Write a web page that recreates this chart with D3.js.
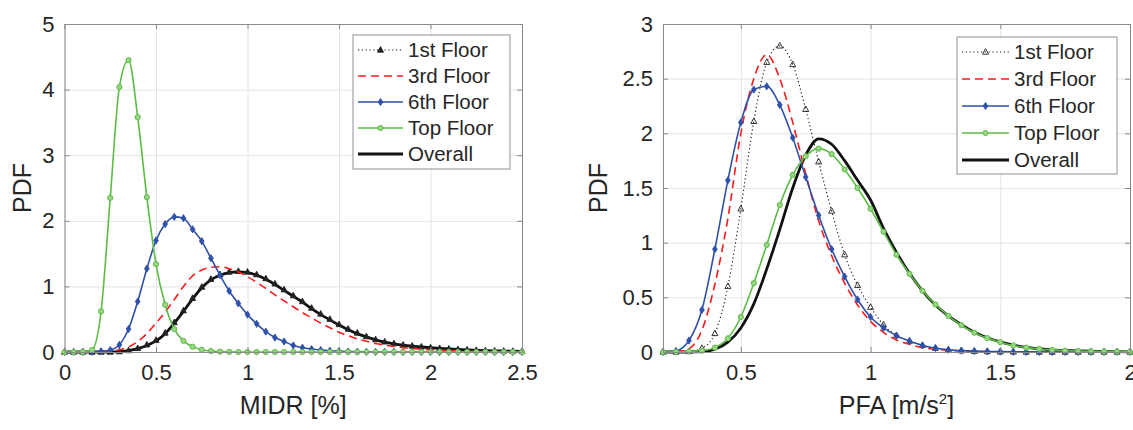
<!DOCTYPE html>
<html>
<head>
<meta charset="utf-8">
<script src="https://cdn.jsdelivr.net/npm/d3@7"></script>
<style>
  body { margin: 0; background: #fff; }
  svg text { font-family: "Liberation Sans", Arial, Helvetica, sans-serif; fill: #262626; }
</style>
</head>
<body>
<div id="chart"></div>
<script>
// ---- data ----
const seriesNames = ["1st Floor", "3rd Floor", "6th Floor", "Top Floor", "Overall"];

// left panel: MIDR [%]
const midrX = [0,0.05,0.1,0.15,0.2,0.25,0.3,0.35,0.4,0.45,0.5,0.55,0.6,0.65,0.7,0.75,0.8,0.85,0.9,0.95,
  1,1.05,1.1,1.15,1.2,1.25,1.3,1.35,1.4,1.45,1.5,1.55,1.6,1.65,1.7,1.75,1.8,1.85,1.9,1.95,
  2,2.05,2.1,2.15,2.2,2.25,2.3,2.35,2.4,2.45,2.5];
const midr1st = [0,0,0,0,0,0,0.006,0.022,0.055,0.11,0.18,0.29,0.45,0.63,0.82,0.99,1.11,1.18,1.22,1.23,
  1.22,1.18,1.12,1.04,0.95,0.86,0.77,0.67,0.58,0.50,0.42,0.35,0.29,0.235,0.19,0.155,0.128,0.107,0.092,0.078,
  0.066,0.056,0.047,0.039,0.033,0.027,0.022,0.018,0.015,0.012,0.01];
const midr3rd = [0,0,0,0,0.005,0.015,0.035,0.08,0.16,0.28,0.44,0.61,0.80,1.00,1.16,1.25,1.29,1.30,1.27,1.22,
  1.15,1.06,0.97,0.87,0.78,0.69,0.60,0.52,0.44,0.37,0.30,0.25,0.20,0.165,0.13,0.105,0.083,0.066,0.053,0.043,
  0.035,0.028,0.022,0.017,0.013,0.01,0.008,0.006,0.005,0.004,0.003];
const midr6th = [0,0,0,0.003,0.01,0.03,0.11,0.35,0.77,1.27,1.70,1.95,2.06,2.04,1.87,1.69,1.43,1.17,0.93,0.74,
  0.57,0.43,0.31,0.22,0.16,0.10,0.066,0.045,0.03,0.02,0.013,0.008,0.005,0.003,0.002,0.001,0.001,0,0,0,
  0,0,0,0,0,0,0,0,0,0,0];
const midrTop = [0,0,0,0.03,0.62,2.35,4.04,4.45,3.58,2.36,1.34,0.72,0.35,0.17,0.08,0.035,0.015,0.006,0.002,0,
  0,0,0,0,0,0,0,0,0,0,0,0,0,0,0,0,0,0,0,0,
  0,0,0,0,0,0,0,0,0,0,0];
const midrOverall = [0,0,0,0,0,0,0.005,0.02,0.05,0.10,0.17,0.28,0.44,0.62,0.81,0.98,1.10,1.17,1.21,1.22,
  1.21,1.17,1.11,1.03,0.94,0.85,0.76,0.66,0.57,0.49,0.41,0.34,0.28,0.23,0.185,0.15,0.125,0.105,0.09,0.077,
  0.065,0.055,0.046,0.038,0.032,0.027,0.022,0.018,0.015,0.012,0.01];
const midrXTicks = [0, 0.5, 1, 1.5, 2, 2.5];
const midrYTicks = [0, 1, 2, 3, 4, 5];

// right panel: PFA [m/s^2]
const pfaX = [0.2,0.25,0.3,0.35,0.4,0.45,0.5,0.55,0.6,0.65,0.7,0.75,0.8,0.85,0.9,0.95,
  1,1.05,1.1,1.15,1.2,1.25,1.3,1.35,1.4,1.45,1.5,1.55,1.6,1.65,1.7,1.75,1.8,1.85,1.9,1.95,2];
const pfa1st = [0,0,0.005,0.035,0.17,0.60,1.31,2.11,2.65,2.80,2.63,2.22,1.74,1.29,0.89,0.61,
  0.41,0.25,0.15,0.10,0.06,0.035,0.02,0.012,0.007,0.004,0.002,0.001,0,0,0,0,0,0,0,0,0];
const pfa3rd = [0,0.003,0.03,0.2,0.62,1.22,2.0,2.5,2.72,2.50,2.10,1.63,1.20,0.88,0.63,0.43,
  0.28,0.18,0.11,0.07,0.04,0.025,0.015,0.008,0.005,0.003,0.002,0.001,0,0,0,0,0,0,0,0,0];
const pfa6th = [0,0.01,0.105,0.385,0.94,1.57,2.10,2.40,2.43,2.26,1.96,1.60,1.25,0.94,0.69,0.48,
  0.32,0.22,0.15,0.10,0.06,0.036,0.02,0.013,0.008,0.005,0.003,0.002,0.001,0.001,0,0,0,0,0,0,0];
const pfaTop = [0,0.002,0.005,0.012,0.04,0.125,0.32,0.63,0.98,1.345,1.62,1.79,1.86,1.81,1.67,1.50,
  1.31,1.10,0.89,0.715,0.56,0.435,0.33,0.245,0.176,0.127,0.09,0.06,0.04,0.028,0.019,0.013,0.009,0.006,0.004,0.003,0.002];
const pfaOverall = [0,0,0,0.003,0.025,0.09,0.22,0.44,0.76,1.12,1.50,1.80,1.95,1.90,1.75,1.57,
  1.39,1.13,0.91,0.72,0.56,0.43,0.33,0.25,0.18,0.13,0.093,0.064,0.043,0.03,0.02,0.014,0.01,0.007,0.005,0.003,0.002];
const pfaXTicks = [0.5, 1, 1.5, 2];
const pfaYTicks = [0, 0.5, 1, 1.5, 2, 2.5, 3];

// ---- styles ----
const styles = {
  "1st Floor": { color: "#111", width: 1.1, dash: "1.2,2.6", marker: "triangle" },
  "3rd Floor": { color: "#ff1a1a", width: 1.6, dash: "8,5", marker: null },
  "6th Floor": { color: "#2f50a8", width: 1.6, dash: null, marker: "diamond" },
  "Top Floor": { color: "#5cbd45", width: 1.6, dash: null, marker: "circle" },
  "Overall":   { color: "#111", width: 2.8, dash: null, marker: null }
};
const drawOrder = ["Overall", "1st Floor", "3rd Floor", "6th Floor", "Top Floor"];

const W = 1133, H = 430;
const plotTop = 24, plotBottom = 352;

const svg = d3.select("#chart").append("svg").attr("width", W).attr("height", H);

const markerPath = (type) => {
  if (type === "diamond") return "M0,-3.6L2.4,0L0,3.6L-2.4,0Z";
  if (type === "triangle") return "M0,-3.4L3,2.2L-3,2.2Z";
  return null;
};

const drawMarker = (sel, type, color, triFill) => {
  if (type === "circle") {
    sel.append("circle").attr("r", 2.6).attr("fill", "#9ad486").attr("stroke", color).attr("stroke-width", 1);
  } else if (type === "diamond") {
    sel.append("path").attr("d", markerPath(type)).attr("fill", color).attr("stroke", color).attr("stroke-width", 0.8);
  } else if (type === "triangle") {
    sel.append("path").attr("d", markerPath(type)).attr("fill", triFill).attr("stroke", "#222").attr("stroke-width", 0.9);
  }
};

const drawPanel = (cfg) => {
  const x = d3.scaleLinear().domain(cfg.xDomain).range([cfg.left, cfg.right]);
  const y = d3.scaleLinear().domain(cfg.yDomain).range([plotBottom, plotTop]);
  const g = svg.append("g");
  const fmt = d3.format("~g");

  // grid
  g.append("g").attr("transform", `translate(0,${plotBottom})`)
    .call(d3.axisBottom(x).tickValues(cfg.xTicks).tickSize(-(plotBottom - plotTop)).tickFormat(""))
    .call(s => s.select(".domain").remove())
    .call(s => s.selectAll("line").attr("stroke", "#e4e4e4"));
  g.append("g").attr("transform", `translate(${cfg.left},0)`)
    .call(d3.axisLeft(y).tickValues(cfg.yTicks).tickSize(-(cfg.right - cfg.left)).tickFormat(""))
    .call(s => s.select(".domain").remove())
    .call(s => s.selectAll("line").attr("stroke", "#e4e4e4"));

  // series
  const lineGen = d3.line().x(d => x(d[0])).y(d => y(d[1])).curve(d3.curveMonotoneX);
  drawOrder.forEach(name => {
    const st = styles[name];
    const pts = cfg.xs.map((v, i) => [v, cfg.data[name][i]]);
    g.append("path").datum(pts).attr("d", lineGen)
      .attr("fill", "none").attr("stroke", st.color).attr("stroke-width", st.width)
      .attr("stroke-dasharray", st.dash).attr("stroke-linejoin", "round");
    if (st.marker) {
      g.append("g").selectAll("g").data(pts).join("g")
        .attr("transform", d => `translate(${x(d[0])},${y(d[1])})`)
        .each(function() { drawMarker(d3.select(this), st.marker, st.color, cfg.triFill); });
    }
  });

  // axes with inward ticks
  const axisColor = "#8a8a8a";
  const styleAxis = s => {
    s.select(".domain").attr("stroke", axisColor);
    s.selectAll(".tick line").attr("stroke", axisColor);
    s.selectAll("text").attr("font-size", 22).attr("fill", "#2a2a2a");
  };
  g.append("g").attr("transform", `translate(0,${plotBottom})`)
    .call(d3.axisBottom(x).tickValues(cfg.xTicks).tickSizeInner(-5).tickSizeOuter(0).tickPadding(12).tickFormat(fmt))
    .call(styleAxis);
  g.append("g").attr("transform", `translate(0,${plotTop})`)
    .call(d3.axisTop(x).tickValues(cfg.xTicks).tickSizeInner(-5).tickSizeOuter(0).tickFormat(""))
    .call(styleAxis);
  g.append("g").attr("transform", `translate(${cfg.left},0)`)
    .call(d3.axisLeft(y).tickValues(cfg.yTicks).tickSizeInner(-5).tickSizeOuter(0).tickPadding(10).tickFormat(fmt))
    .call(styleAxis);
  g.append("g").attr("transform", `translate(${cfg.right},0)`)
    .call(d3.axisRight(y).tickValues(cfg.yTicks).tickSizeInner(-5).tickSizeOuter(0).tickFormat(""))
    .call(styleAxis);
  g.selectAll(".domain").attr("stroke-width", 1);

  // axis labels
  g.append("text").attr("transform", `translate(${cfg.yLabelX},${(plotTop + plotBottom) / 2}) rotate(-90)`)
    .attr("text-anchor", "middle").attr("font-size", 25).text("PDF");
  const xl = g.append("text").attr("x", (cfg.left + cfg.right) / 2).attr("y", 414)
    .attr("text-anchor", "middle").attr("font-size", 25);
  cfg.xLabel(xl);

  // legend
  const lg = g.append("g");
  lg.append("rect").attr("x", cfg.legend.x).attr("y", cfg.legend.y)
    .attr("width", cfg.legend.w).attr("height", cfg.legend.h)
    .attr("fill", "#fff").attr("stroke", "#8f8f8f").attr("stroke-width", 1);
  seriesNames.forEach((name, i) => {
    const st = styles[name];
    const cy = cfg.legend.y + cfg.legend.row0 + i * cfg.legend.dy;
    const x0 = cfg.legend.x + 5, x1 = x0 + cfg.legend.sample;
    lg.append("line").attr("x1", x0).attr("x2", x1).attr("y1", cy).attr("y2", cy)
      .attr("stroke", st.color).attr("stroke-width", st.width).attr("stroke-dasharray", st.dash);
    if (st.marker) {
      const m = lg.append("g").attr("transform", `translate(${(x0 + x1) / 2},${cy})`);
      drawMarker(m, st.marker, st.color, cfg.triFill);
    }
    lg.append("text").attr("x", x1 + 5).attr("y", cy + 7).attr("font-size", 20.5).text(name);
  });
};

drawPanel({
  xs: midrX,
  data: { "1st Floor": midr1st, "3rd Floor": midr3rd, "6th Floor": midr6th, "Top Floor": midrTop, "Overall": midrOverall },
  xDomain: [0, 2.5], yDomain: [0, 5],
  xTicks: midrXTicks, yTicks: midrYTicks,
  left: 64.5, right: 522,
  yLabelX: 31,
  triFill: "#222",
  xLabel: t => t.text("MIDR [%]"),
  legend: { x: 353, y: 35, w: 157, h: 134, row0: 15, dy: 26, sample: 45 }
});

drawPanel({
  xs: pfaX,
  data: { "1st Floor": pfa1st, "3rd Floor": pfa3rd, "6th Floor": pfa6th, "Top Floor": pfaTop, "Overall": pfaOverall },
  xDomain: [0.2, 2], yDomain: [0, 3],
  xTicks: pfaXTicks, yTicks: pfaYTicks,
  left: 663, right: 1130,
  yLabelX: 607,
  triFill: "none",
  xLabel: t => {
    t.append("tspan").text("PFA [m/s");
    t.append("tspan").attr("dy", -10).attr("font-size", 15).text("2");
    t.append("tspan").attr("dy", 10).text("]");
  },
  legend: { x: 957, y: 37, w: 160, h: 137, row0: 15, dy: 27, sample: 47 }
});
</script>
</body>
</html>
